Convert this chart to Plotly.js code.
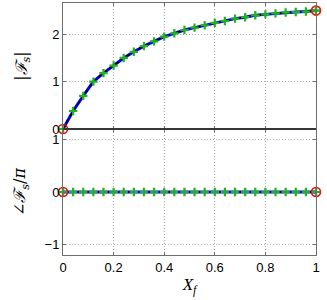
<!DOCTYPE html>
<html>
<head>
<meta charset="utf-8">
<script src="https://cdn.plot.ly/plotly-3.0.1.min.js"></script>
<style>html,body{margin:0;padding:0;background:#fff;}#chart{width:327px;height:300px;}</style>
</head>
<body>
<div id="chart"></div>
<script>
// Data
var xf = [0, 0.04, 0.08, 0.12, 0.16, 0.20, 0.24, 0.28, 0.32, 0.36, 0.40, 0.44, 0.48,
          0.52, 0.56, 0.60, 0.64, 0.68, 0.72, 0.76, 0.80, 0.84, 0.88, 0.92, 0.96, 1.00];
var magnitude = [0, 0.38, 0.70, 1.00, 1.18, 1.34, 1.50, 1.63, 1.75, 1.85, 1.95, 2.02, 2.09,
                 2.14, 2.19, 2.24, 2.28, 2.33, 2.36, 2.40, 2.42, 2.44, 2.46, 2.47, 2.48, 2.50];
var phase = [0, 0, 0, 0, 0, 0, 0, 0, 0, 0, 0, 0, 0,
             0, 0, 0, 0, 0, 0, 0, 0, 0, 0, 0, 0, 0];
var endX = [xf[0], xf[xf.length - 1]];
var endMag = [magnitude[0], magnitude[magnitude.length - 1]];
var endPhase = [phase[0], phase[phase.length - 1]];
var xTicks = [0, 0.2, 0.4, 0.6, 0.8, 1];
var xTickText = ['0', '0.2', '0.4', '0.6', '0.8', '1'];
var magTicks = [0, 1, 2];
var phaseTicks = [-1, 0, 1];

function panel(xa, ya, yv, ev) {
  return [
    {x: xf, y: yv, xaxis: xa, yaxis: ya, mode: 'lines', cliponaxis: false, line: {color: '#0000ff', width: 3}, hoverinfo: 'skip'},
    {x: xf, y: yv, xaxis: xa, yaxis: ya, mode: 'lines', cliponaxis: false, line: {color: '#000000', width: 1.5, dash: '4px,3px'}, hoverinfo: 'skip'},
    {x: xf, y: yv, xaxis: xa, yaxis: ya, mode: 'markers', cliponaxis: false,
     marker: {symbol: 'cross-thin-open', size: 6, color: '#1fb31f', line: {color: '#1fb31f', width: 2.2}}},
    {x: endX, y: ev, xaxis: xa, yaxis: ya, mode: 'markers', cliponaxis: false,
     marker: {symbol: 'circle-open', size: 9, color: '#ff0000', line: {color: '#ff0000', width: 1.6}}},
    {x: endX, y: ev, xaxis: xa, yaxis: ya, mode: 'markers', cliponaxis: false,
     marker: {symbol: 'cross-thin-open', size: 6, color: '#1fb31f', line: {color: '#1fb31f', width: 2.2}}}
  ];
}

var data = panel('x', 'y', magnitude, endMag).concat(panel('x2', 'y2', phase, endPhase));

var axLine = '#6e6e6e';
var gridC = '#a8a8a8';
var tickFont = {family: 'Liberation Sans, Arial, sans-serif', size: 13, color: '#000'};
var titleFont = {family: 'DejaVu Serif, Liberation Serif, serif', size: 16, color: '#000'};

function xax(showLabels, anchor) {
  return {
    anchor: anchor, range: [0, 1], tickvals: xTicks, ticktext: xTickText,
    showticklabels: showLabels, ticks: 'inside', ticklen: 3, tickcolor: axLine,
    showline: true, linecolor: axLine, linewidth: 1, mirror: 'ticks',
    showgrid: true, gridcolor: gridC, griddash: '1px,2px', gridwidth: 1, zeroline: false,
    tickfont: tickFont, fixedrange: true
  };
}

var layout = {
  width: 327, height: 300,
  margin: {l: 63, r: 11, t: 3, b: 45},
  paper_bgcolor: '#fff', plot_bgcolor: '#fff',
  showlegend: false,
  xaxis: xax(false, 'y'),
  xaxis2: Object.assign(xax(true, 'y2'), {
    matches: 'x',
    title: {text: '<i>X</i><sub><i>f</i></sub>', font: {family: 'Liberation Serif, serif', size: 17, color: '#000'}, standoff: 4}
  }),
  yaxis: {
    domain: [0.5, 1], anchor: 'x', range: [0, 2.66], tickvals: magTicks,
    ticks: 'inside', ticklen: 3, tickcolor: axLine,
    showline: true, linecolor: axLine, linewidth: 1, mirror: 'ticks',
    showgrid: true, gridcolor: gridC, griddash: '1px,2px', zeroline: false,
    tickfont: tickFont, fixedrange: true,
    title: {text: '|<i>ℱ</i><sub><i>s</i></sub>|', font: titleFont, standoff: 20}
  },
  yaxis2: {
    domain: [0, 0.5], anchor: 'x2', range: [-1.2, 1.2], tickvals: phaseTicks,
    ticks: 'inside', ticklen: 3, tickcolor: axLine,
    showline: true, linecolor: axLine, linewidth: 1, mirror: 'ticks',
    showgrid: true, gridcolor: gridC, griddash: '1px,2px', zeroline: false,
    tickfont: tickFont, fixedrange: true,
    title: {text: '∠<i>ℱ</i><sub><i>s</i></sub>/<i>π</i>', font: titleFont, standoff: 14}
  },
  shapes: [
    {type: 'line', xref: 'x domain', yref: 'paper', x0: 0, x1: 1, y0: 0.5, y1: 0.5,
     line: {color: '#000', width: 1}, layer: 'above'}
  ]
};

Plotly.newPlot('chart', data, layout, {displayModeBar: false, staticPlot: true});
</script>
</body>
</html>
